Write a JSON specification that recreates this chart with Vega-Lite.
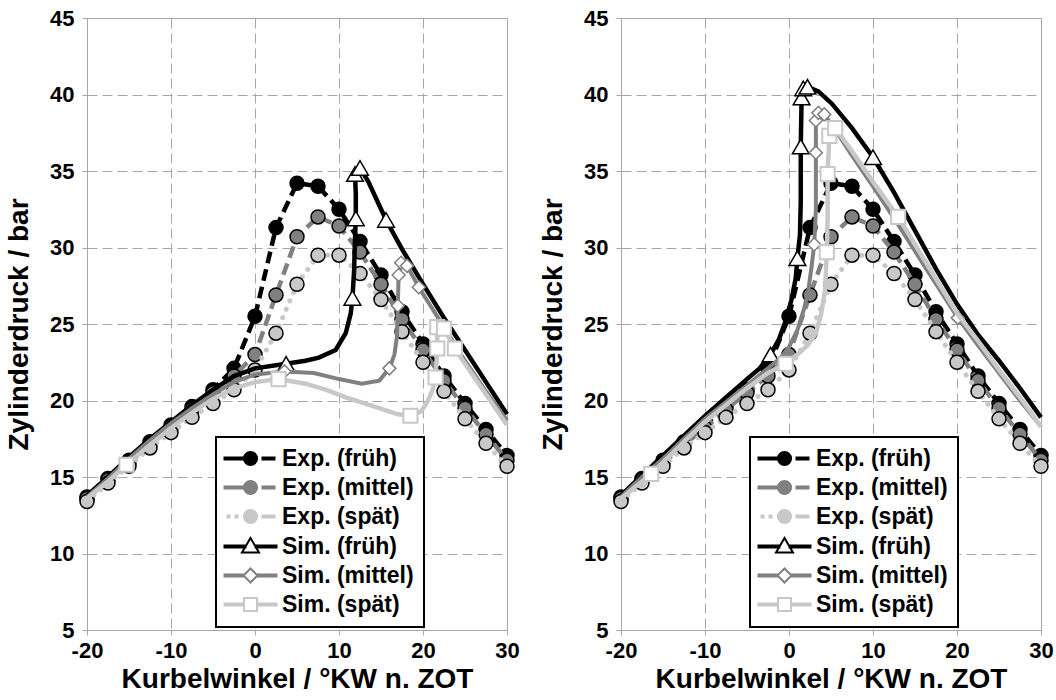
{
"$schema": "https://vega.github.io/schema/vega-lite/v6.json",
"padding": {"left": 5, "top": 6, "right": 0, "bottom": 0},
"background": "#ffffff",
"datasets": {
"exp": [
{"serie":"Exp. (früh)","kw":-20,"p":13.7},{"serie":"Exp. (früh)","kw":-17.5,"p":14.9},{"serie":"Exp. (früh)","kw":-15,"p":16.1},{"serie":"Exp. (früh)","kw":-12.5,"p":17.3},{"serie":"Exp. (früh)","kw":-10,"p":18.4},{"serie":"Exp. (früh)","kw":-7.5,"p":19.6},{"serie":"Exp. (früh)","kw":-5,"p":20.7},{"serie":"Exp. (früh)","kw":-2.5,"p":22.1},{"serie":"Exp. (früh)","kw":0,"p":25.5},{"serie":"Exp. (früh)","kw":2.5,"p":31.3},{"serie":"Exp. (früh)","kw":5,"p":34.2},{"serie":"Exp. (früh)","kw":7.5,"p":34.0},{"serie":"Exp. (früh)","kw":10,"p":32.5},{"serie":"Exp. (früh)","kw":12.5,"p":30.4},{"serie":"Exp. (früh)","kw":15,"p":28.2},{"serie":"Exp. (früh)","kw":17.5,"p":25.8},{"serie":"Exp. (früh)","kw":20,"p":23.7},{"serie":"Exp. (früh)","kw":22.5,"p":21.6},{"serie":"Exp. (früh)","kw":25,"p":19.8},{"serie":"Exp. (früh)","kw":27.5,"p":18.1},{"serie":"Exp. (früh)","kw":30,"p":16.4},
{"serie":"Exp. (mittel)","kw":-20,"p":13.6},{"serie":"Exp. (mittel)","kw":-17.5,"p":14.8},{"serie":"Exp. (mittel)","kw":-15,"p":15.9},{"serie":"Exp. (mittel)","kw":-12.5,"p":17.1},{"serie":"Exp. (mittel)","kw":-10,"p":18.2},{"serie":"Exp. (mittel)","kw":-7.5,"p":19.4},{"serie":"Exp. (mittel)","kw":-5,"p":20.5},{"serie":"Exp. (mittel)","kw":-2.5,"p":21.6},{"serie":"Exp. (mittel)","kw":0,"p":23.0},{"serie":"Exp. (mittel)","kw":2.5,"p":26.9},{"serie":"Exp. (mittel)","kw":5,"p":30.7},{"serie":"Exp. (mittel)","kw":7.5,"p":32.0},{"serie":"Exp. (mittel)","kw":10,"p":31.4},{"serie":"Exp. (mittel)","kw":12.5,"p":29.7},{"serie":"Exp. (mittel)","kw":15,"p":27.6},{"serie":"Exp. (mittel)","kw":17.5,"p":25.3},{"serie":"Exp. (mittel)","kw":20,"p":23.3},{"serie":"Exp. (mittel)","kw":22.5,"p":21.3},{"serie":"Exp. (mittel)","kw":25,"p":19.5},{"serie":"Exp. (mittel)","kw":27.5,"p":17.8},{"serie":"Exp. (mittel)","kw":30,"p":16.1},
{"serie":"Exp. (spät)","kw":-20,"p":13.4},{"serie":"Exp. (spät)","kw":-17.5,"p":14.6},{"serie":"Exp. (spät)","kw":-15,"p":15.7},{"serie":"Exp. (spät)","kw":-12.5,"p":16.9},{"serie":"Exp. (spät)","kw":-10,"p":17.9},{"serie":"Exp. (spät)","kw":-7.5,"p":18.9},{"serie":"Exp. (spät)","kw":-5,"p":19.8},{"serie":"Exp. (spät)","kw":-2.5,"p":20.7},{"serie":"Exp. (spät)","kw":0,"p":22.0},{"serie":"Exp. (spät)","kw":2.5,"p":24.4},{"serie":"Exp. (spät)","kw":5,"p":27.6},{"serie":"Exp. (spät)","kw":7.5,"p":29.5},{"serie":"Exp. (spät)","kw":10,"p":29.5},{"serie":"Exp. (spät)","kw":12.5,"p":28.3},{"serie":"Exp. (spät)","kw":15,"p":26.6},{"serie":"Exp. (spät)","kw":17.5,"p":24.5},{"serie":"Exp. (spät)","kw":20,"p":22.5},{"serie":"Exp. (spät)","kw":22.5,"p":20.6},{"serie":"Exp. (spät)","kw":25,"p":18.8},{"serie":"Exp. (spät)","kw":27.5,"p":17.2},{"serie":"Exp. (spät)","kw":30,"p":15.7}
],
"sim": [
{"panel":"L","serie":"Sim. (früh)","i":0,"kw":-20,"p":13.8,"m":0},{"panel":"L","serie":"Sim. (früh)","i":1,"kw":-17.5,"p":15.0,"m":0},{"panel":"L","serie":"Sim. (früh)","i":2,"kw":-15,"p":16.3,"m":0},{"panel":"L","serie":"Sim. (früh)","i":3,"kw":-12.5,"p":17.5,"m":0},{"panel":"L","serie":"Sim. (früh)","i":4,"kw":-10,"p":18.6,"m":0},{"panel":"L","serie":"Sim. (früh)","i":5,"kw":-7.5,"p":19.7,"m":0},{"panel":"L","serie":"Sim. (früh)","i":6,"kw":-5,"p":20.7,"m":0},{"panel":"L","serie":"Sim. (früh)","i":7,"kw":-2.5,"p":21.6,"m":0},{"panel":"L","serie":"Sim. (früh)","i":8,"kw":0,"p":22.1,"m":0},{"panel":"L","serie":"Sim. (früh)","i":9,"kw":3.7,"p":22.4,"m":1},{"panel":"L","serie":"Sim. (früh)","i":10,"kw":6,"p":22.6,"m":0},{"panel":"L","serie":"Sim. (früh)","i":11,"kw":7.6,"p":22.8,"m":0},{"panel":"L","serie":"Sim. (früh)","i":12,"kw":9.6,"p":23.3,"m":0},{"panel":"L","serie":"Sim. (früh)","i":13,"kw":10.8,"p":24.4,"m":0},{"panel":"L","serie":"Sim. (früh)","i":14,"kw":11.4,"p":25.7,"m":0},{"panel":"L","serie":"Sim. (früh)","i":15,"kw":11.6,"p":26.7,"m":1},{"panel":"L","serie":"Sim. (früh)","i":16,"kw":11.8,"p":28.5,"m":0},{"panel":"L","serie":"Sim. (früh)","i":17,"kw":11.9,"p":30.5,"m":0},{"panel":"L","serie":"Sim. (früh)","i":18,"kw":12.0,"p":31.9,"m":1},{"panel":"L","serie":"Sim. (früh)","i":19,"kw":12.0,"p":33.5,"m":0},{"panel":"L","serie":"Sim. (früh)","i":20,"kw":11.9,"p":34.8,"m":1},{"panel":"L","serie":"Sim. (früh)","i":21,"kw":12.5,"p":35.2,"m":1},{"panel":"L","serie":"Sim. (früh)","i":22,"kw":13.5,"p":34.3,"m":0},{"panel":"L","serie":"Sim. (früh)","i":23,"kw":15.6,"p":31.8,"m":1},{"panel":"L","serie":"Sim. (früh)","i":24,"kw":17.5,"p":29.9,"m":0},{"panel":"L","serie":"Sim. (früh)","i":25,"kw":20,"p":27.6,"m":0},{"panel":"L","serie":"Sim. (früh)","i":26,"kw":22.5,"p":25.4,"m":0},{"panel":"L","serie":"Sim. (früh)","i":27,"kw":25,"p":23.3,"m":0},{"panel":"L","serie":"Sim. (früh)","i":28,"kw":27.5,"p":21.2,"m":0},{"panel":"L","serie":"Sim. (früh)","i":29,"kw":30,"p":19.1,"m":0},
{"panel":"L","serie":"Sim. (mittel)","i":0,"kw":-20,"p":13.7,"m":0},{"panel":"L","serie":"Sim. (mittel)","i":1,"kw":-17.5,"p":14.9,"m":0},{"panel":"L","serie":"Sim. (mittel)","i":2,"kw":-15,"p":16.2,"m":0},{"panel":"L","serie":"Sim. (mittel)","i":3,"kw":-12.5,"p":17.4,"m":0},{"panel":"L","serie":"Sim. (mittel)","i":4,"kw":-10,"p":18.5,"m":0},{"panel":"L","serie":"Sim. (mittel)","i":5,"kw":-7.5,"p":19.5,"m":0},{"panel":"L","serie":"Sim. (mittel)","i":6,"kw":-5,"p":20.4,"m":0},{"panel":"L","serie":"Sim. (mittel)","i":7,"kw":-2.5,"p":21.2,"m":0},{"panel":"L","serie":"Sim. (mittel)","i":8,"kw":0,"p":21.7,"m":0},{"panel":"L","serie":"Sim. (mittel)","i":9,"kw":3.5,"p":21.9,"m":1},{"panel":"L","serie":"Sim. (mittel)","i":10,"kw":7,"p":21.8,"m":0},{"panel":"L","serie":"Sim. (mittel)","i":11,"kw":10,"p":21.4,"m":0},{"panel":"L","serie":"Sim. (mittel)","i":12,"kw":12.7,"p":21.1,"m":0},{"panel":"L","serie":"Sim. (mittel)","i":13,"kw":14.8,"p":21.3,"m":0},{"panel":"L","serie":"Sim. (mittel)","i":14,"kw":16.0,"p":22.1,"m":1},{"panel":"L","serie":"Sim. (mittel)","i":15,"kw":16.6,"p":23.0,"m":0},{"panel":"L","serie":"Sim. (mittel)","i":16,"kw":16.9,"p":24.2,"m":0},{"panel":"L","serie":"Sim. (mittel)","i":17,"kw":17.0,"p":26.2,"m":1},{"panel":"L","serie":"Sim. (mittel)","i":18,"kw":17.1,"p":28.2,"m":1},{"panel":"L","serie":"Sim. (mittel)","i":19,"kw":17.4,"p":29.0,"m":1},{"panel":"L","serie":"Sim. (mittel)","i":20,"kw":18.1,"p":28.8,"m":1},{"panel":"L","serie":"Sim. (mittel)","i":21,"kw":19.5,"p":27.4,"m":1},{"panel":"L","serie":"Sim. (mittel)","i":22,"kw":22.5,"p":24.8,"m":0},{"panel":"L","serie":"Sim. (mittel)","i":23,"kw":25,"p":22.6,"m":0},{"panel":"L","serie":"Sim. (mittel)","i":24,"kw":27.5,"p":20.6,"m":0},{"panel":"L","serie":"Sim. (mittel)","i":25,"kw":30,"p":18.7,"m":0},
{"panel":"L","serie":"Sim. (spät)","i":0,"kw":-20,"p":13.6,"m":0},{"panel":"L","serie":"Sim. (spät)","i":1,"kw":-17.5,"p":14.7,"m":0},{"panel":"L","serie":"Sim. (spät)","i":2,"kw":-15.3,"p":15.8,"m":1},{"panel":"L","serie":"Sim. (spät)","i":3,"kw":-12.5,"p":17.1,"m":0},{"panel":"L","serie":"Sim. (spät)","i":4,"kw":-10,"p":18.2,"m":0},{"panel":"L","serie":"Sim. (spät)","i":5,"kw":-7.5,"p":19.2,"m":0},{"panel":"L","serie":"Sim. (spät)","i":6,"kw":-5,"p":20.1,"m":0},{"panel":"L","serie":"Sim. (spät)","i":7,"kw":-2.5,"p":20.8,"m":0},{"panel":"L","serie":"Sim. (spät)","i":8,"kw":0,"p":21.2,"m":0},{"panel":"L","serie":"Sim. (spät)","i":9,"kw":2.8,"p":21.4,"m":1},{"panel":"L","serie":"Sim. (spät)","i":10,"kw":6,"p":21.1,"m":0},{"panel":"L","serie":"Sim. (spät)","i":11,"kw":8.5,"p":20.7,"m":0},{"panel":"L","serie":"Sim. (spät)","i":12,"kw":10.8,"p":20.2,"m":0},{"panel":"L","serie":"Sim. (spät)","i":13,"kw":14.8,"p":19.5,"m":0},{"panel":"L","serie":"Sim. (spät)","i":14,"kw":17,"p":19.1,"m":0},{"panel":"L","serie":"Sim. (spät)","i":15,"kw":18.5,"p":19.0,"m":1},{"panel":"L","serie":"Sim. (spät)","i":16,"kw":19.8,"p":19.3,"m":0},{"panel":"L","serie":"Sim. (spät)","i":17,"kw":20.6,"p":20.0,"m":0},{"panel":"L","serie":"Sim. (spät)","i":18,"kw":21.2,"p":20.8,"m":0},{"panel":"L","serie":"Sim. (spät)","i":19,"kw":21.5,"p":21.5,"m":1},{"panel":"L","serie":"Sim. (spät)","i":20,"kw":21.7,"p":23.4,"m":1},{"panel":"L","serie":"Sim. (spät)","i":21,"kw":21.7,"p":24.8,"m":1},{"panel":"L","serie":"Sim. (spät)","i":22,"kw":22.5,"p":24.7,"m":1},{"panel":"L","serie":"Sim. (spät)","i":23,"kw":23.8,"p":23.4,"m":1},{"panel":"L","serie":"Sim. (spät)","i":24,"kw":25,"p":22.4,"m":0},{"panel":"L","serie":"Sim. (spät)","i":25,"kw":27.5,"p":20.4,"m":0},{"panel":"L","serie":"Sim. (spät)","i":26,"kw":30,"p":18.4,"m":0},
{"panel":"R","serie":"Sim. (früh)","i":0,"kw":-20,"p":13.8,"m":0},{"panel":"R","serie":"Sim. (früh)","i":1,"kw":-17.5,"p":15.1,"m":0},{"panel":"R","serie":"Sim. (früh)","i":2,"kw":-15,"p":16.4,"m":0},{"panel":"R","serie":"Sim. (früh)","i":3,"kw":-12.5,"p":17.7,"m":0},{"panel":"R","serie":"Sim. (früh)","i":4,"kw":-10,"p":19.0,"m":0},{"panel":"R","serie":"Sim. (früh)","i":5,"kw":-7.5,"p":20.2,"m":0},{"panel":"R","serie":"Sim. (früh)","i":6,"kw":-5,"p":21.4,"m":0},{"panel":"R","serie":"Sim. (früh)","i":7,"kw":-3.5,"p":22.1,"m":0},{"panel":"R","serie":"Sim. (früh)","i":8,"kw":-2.2,"p":23.0,"m":1},{"panel":"R","serie":"Sim. (früh)","i":9,"kw":-1.2,"p":24.0,"m":0},{"panel":"R","serie":"Sim. (früh)","i":10,"kw":-0.4,"p":25.2,"m":0},{"panel":"R","serie":"Sim. (früh)","i":11,"kw":0.3,"p":26.6,"m":0},{"panel":"R","serie":"Sim. (früh)","i":12,"kw":0.8,"p":28.0,"m":0},{"panel":"R","serie":"Sim. (früh)","i":13,"kw":1.0,"p":29.3,"m":1},{"panel":"R","serie":"Sim. (früh)","i":14,"kw":1.3,"p":30.8,"m":0},{"panel":"R","serie":"Sim. (früh)","i":15,"kw":1.4,"p":33.0,"m":0},{"panel":"R","serie":"Sim. (früh)","i":16,"kw":1.4,"p":36.6,"m":1},{"panel":"R","serie":"Sim. (früh)","i":17,"kw":1.5,"p":39.8,"m":1},{"panel":"R","serie":"Sim. (früh)","i":18,"kw":1.7,"p":40.4,"m":1},{"panel":"R","serie":"Sim. (früh)","i":19,"kw":2.2,"p":40.5,"m":1},{"panel":"R","serie":"Sim. (früh)","i":20,"kw":3.5,"p":40.2,"m":0},{"panel":"R","serie":"Sim. (früh)","i":21,"kw":5.1,"p":39.4,"m":0},{"panel":"R","serie":"Sim. (früh)","i":22,"kw":7.5,"p":37.8,"m":0},{"panel":"R","serie":"Sim. (früh)","i":23,"kw":10.0,"p":35.9,"m":1},{"panel":"R","serie":"Sim. (früh)","i":24,"kw":12.5,"p":33.6,"m":0},{"panel":"R","serie":"Sim. (früh)","i":25,"kw":15,"p":31.1,"m":0},{"panel":"R","serie":"Sim. (früh)","i":26,"kw":17.5,"p":28.6,"m":0},{"panel":"R","serie":"Sim. (früh)","i":27,"kw":20,"p":26.3,"m":0},{"panel":"R","serie":"Sim. (früh)","i":28,"kw":22.5,"p":24.3,"m":0},{"panel":"R","serie":"Sim. (früh)","i":29,"kw":25,"p":22.6,"m":0},{"panel":"R","serie":"Sim. (früh)","i":30,"kw":27.5,"p":20.8,"m":0},{"panel":"R","serie":"Sim. (früh)","i":31,"kw":30,"p":18.9,"m":0},
{"panel":"R","serie":"Sim. (mittel)","i":0,"kw":-20,"p":13.7,"m":0},{"panel":"R","serie":"Sim. (mittel)","i":1,"kw":-17.5,"p":15.0,"m":0},{"panel":"R","serie":"Sim. (mittel)","i":2,"kw":-15,"p":16.2,"m":0},{"panel":"R","serie":"Sim. (mittel)","i":3,"kw":-12.5,"p":17.5,"m":0},{"panel":"R","serie":"Sim. (mittel)","i":4,"kw":-10,"p":18.8,"m":0},{"panel":"R","serie":"Sim. (mittel)","i":5,"kw":-7.5,"p":19.9,"m":0},{"panel":"R","serie":"Sim. (mittel)","i":6,"kw":-5,"p":21.0,"m":0},{"panel":"R","serie":"Sim. (mittel)","i":7,"kw":-2.5,"p":22.1,"m":0},{"panel":"R","serie":"Sim. (mittel)","i":8,"kw":-1,"p":22.8,"m":0},{"panel":"R","serie":"Sim. (mittel)","i":9,"kw":0,"p":23.5,"m":0},{"panel":"R","serie":"Sim. (mittel)","i":10,"kw":1,"p":24.6,"m":0},{"panel":"R","serie":"Sim. (mittel)","i":11,"kw":1.8,"p":26.0,"m":0},{"panel":"R","serie":"Sim. (mittel)","i":12,"kw":2.3,"p":27.2,"m":0},{"panel":"R","serie":"Sim. (mittel)","i":13,"kw":2.7,"p":28.8,"m":0},{"panel":"R","serie":"Sim. (mittel)","i":14,"kw":3.0,"p":30.2,"m":1},{"panel":"R","serie":"Sim. (mittel)","i":15,"kw":3.2,"p":32.5,"m":0},{"panel":"R","serie":"Sim. (mittel)","i":16,"kw":3.2,"p":34.5,"m":0},{"panel":"R","serie":"Sim. (mittel)","i":17,"kw":3.2,"p":36.2,"m":1},{"panel":"R","serie":"Sim. (mittel)","i":18,"kw":3.2,"p":38.3,"m":1},{"panel":"R","serie":"Sim. (mittel)","i":19,"kw":3.5,"p":38.8,"m":1},{"panel":"R","serie":"Sim. (mittel)","i":20,"kw":4.2,"p":38.7,"m":1},{"panel":"R","serie":"Sim. (mittel)","i":21,"kw":5.5,"p":37.7,"m":0},{"panel":"R","serie":"Sim. (mittel)","i":22,"kw":7.5,"p":36.0,"m":0},{"panel":"R","serie":"Sim. (mittel)","i":23,"kw":10,"p":34.0,"m":0},{"panel":"R","serie":"Sim. (mittel)","i":24,"kw":13,"p":31.5,"m":0},{"panel":"R","serie":"Sim. (mittel)","i":25,"kw":16,"p":28.9,"m":0},{"panel":"R","serie":"Sim. (mittel)","i":26,"kw":20.1,"p":25.4,"m":1},{"panel":"R","serie":"Sim. (mittel)","i":27,"kw":22.5,"p":23.6,"m":0},{"panel":"R","serie":"Sim. (mittel)","i":28,"kw":25,"p":21.8,"m":0},{"panel":"R","serie":"Sim. (mittel)","i":29,"kw":27.5,"p":20.0,"m":0},{"panel":"R","serie":"Sim. (mittel)","i":30,"kw":30,"p":18.3,"m":0},
{"panel":"R","serie":"Sim. (spät)","i":0,"kw":-20,"p":13.6,"m":0},{"panel":"R","serie":"Sim. (spät)","i":1,"kw":-16.4,"p":15.2,"m":1},{"panel":"R","serie":"Sim. (spät)","i":2,"kw":-12.5,"p":17.3,"m":0},{"panel":"R","serie":"Sim. (spät)","i":3,"kw":-10,"p":18.6,"m":0},{"panel":"R","serie":"Sim. (spät)","i":4,"kw":-7.5,"p":19.7,"m":0},{"panel":"R","serie":"Sim. (spät)","i":5,"kw":-5,"p":20.8,"m":0},{"panel":"R","serie":"Sim. (spät)","i":6,"kw":-2.5,"p":21.8,"m":0},{"panel":"R","serie":"Sim. (spät)","i":7,"kw":-0.4,"p":22.4,"m":1},{"panel":"R","serie":"Sim. (spät)","i":8,"kw":1,"p":23.0,"m":0},{"panel":"R","serie":"Sim. (spät)","i":9,"kw":2.2,"p":23.6,"m":0},{"panel":"R","serie":"Sim. (spät)","i":10,"kw":3.2,"p":24.4,"m":0},{"panel":"R","serie":"Sim. (spät)","i":11,"kw":3.8,"p":25.6,"m":0},{"panel":"R","serie":"Sim. (spät)","i":12,"kw":4.3,"p":27.2,"m":0},{"panel":"R","serie":"Sim. (spät)","i":13,"kw":4.5,"p":29.7,"m":1},{"panel":"R","serie":"Sim. (spät)","i":14,"kw":4.6,"p":32.0,"m":0},{"panel":"R","serie":"Sim. (spät)","i":15,"kw":4.6,"p":34.8,"m":1},{"panel":"R","serie":"Sim. (spät)","i":16,"kw":4.8,"p":37.3,"m":1},{"panel":"R","serie":"Sim. (spät)","i":17,"kw":5.5,"p":37.8,"m":1},{"panel":"R","serie":"Sim. (spät)","i":18,"kw":7.5,"p":36.3,"m":0},{"panel":"R","serie":"Sim. (spät)","i":19,"kw":10,"p":34.3,"m":0},{"panel":"R","serie":"Sim. (spät)","i":20,"kw":13.0,"p":32.0,"m":1},{"panel":"R","serie":"Sim. (spät)","i":21,"kw":16,"p":29.3,"m":0},{"panel":"R","serie":"Sim. (spät)","i":22,"kw":20,"p":25.7,"m":0},{"panel":"R","serie":"Sim. (spät)","i":23,"kw":22.5,"p":23.9,"m":0},{"panel":"R","serie":"Sim. (spät)","i":24,"kw":25,"p":22.0,"m":0},{"panel":"R","serie":"Sim. (spät)","i":25,"kw":27.5,"p":20.2,"m":0},{"panel":"R","serie":"Sim. (spät)","i":26,"kw":30,"p":18.3,"m":0}
]
},
"spacing": 114,
"bounds": "flush",
"resolve": {
  "scale": {"shape": "independent", "fill": "independent", "stroke": "independent"},
  "legend": {"shape": "independent", "fill": "independent", "stroke": "independent"}
},
"hconcat": [
{
"width": 420, "height": 612,
"encoding": {
  "x": {"field": "kw", "type": "quantitative", "scale": {"domain": [-20, 30], "nice": false, "zero": false}, "axis": {"values": [-20, -10, 0, 10, 20, 30], "labelExpr": "toString(datum.value)", "title": "Kurbelwinkel / °KW n. ZOT"}},
  "y": {"field": "p", "type": "quantitative", "scale": {"domain": [5, 45], "nice": false, "zero": false}, "axis": {"values": [5, 10, 15, 20, 25, 30, 35, 40, 45], "title": "Zylinderdruck / bar"}}
},
"layer": [
{"data": {"name": "exp"}, "transform": [{"filter": "datum.serie === 'Exp. (früh)'"}], "mark": {"type": "line", "stroke": "#000000", "strokeWidth": 4.5, "strokeDash": [12, 6]}},
{"data": {"name": "exp"}, "transform": [{"filter": "datum.serie === 'Exp. (früh)'"}], "mark": {"type": "point", "shape": "circle", "filled": true, "fill": "#000000", "stroke": "#000000", "strokeWidth": 1.5, "size": 196, "opacity": 1}},
{"data": {"name": "exp"}, "transform": [{"filter": "datum.serie === 'Exp. (mittel)'"}], "mark": {"type": "line", "stroke": "#808080", "strokeWidth": 4.5, "strokeDash": [12, 6]}},
{"data": {"name": "exp"}, "transform": [{"filter": "datum.serie === 'Exp. (mittel)'"}], "mark": {"type": "point", "shape": "circle", "filled": true, "fill": "#808080", "stroke": "#000000", "strokeWidth": 1.5, "size": 196, "opacity": 1}},
{"data": {"name": "exp"}, "transform": [{"filter": "datum.serie === 'Exp. (spät)'"}], "mark": {"type": "line", "stroke": "#c8c8c8", "strokeWidth": 5, "strokeDash": [0.1, 9], "strokeCap": "round"}},
{"data": {"name": "exp"}, "transform": [{"filter": "datum.serie === 'Exp. (spät)'"}], "mark": {"type": "point", "shape": "circle", "filled": true, "fill": "#c8c8c8", "stroke": "#000000", "strokeWidth": 1.5, "size": 196, "opacity": 1}},
{"data": {"name": "sim"}, "transform": [{"filter": "datum.panel === 'L' && datum.serie === 'Sim. (früh)'"}], "mark": {"type": "line", "stroke": "#000000", "strokeWidth": 4.5}, "encoding": {"order": {"field": "i", "type": "quantitative"}}},
{"data": {"name": "sim"}, "transform": [{"filter": "datum.panel === 'L' && datum.serie === 'Sim. (früh)' && datum.m === 1"}], "mark": {"type": "point", "shape": "triangle-up", "filled": true, "fill": "#ffffff", "stroke": "#000000", "strokeWidth": 1.5, "size": 280, "opacity": 1}},
{"data": {"name": "sim"}, "transform": [{"filter": "datum.panel === 'L' && datum.serie === 'Sim. (mittel)'"}], "mark": {"type": "line", "stroke": "#808080", "strokeWidth": 4}, "encoding": {"order": {"field": "i", "type": "quantitative"}}},
{"data": {"name": "sim"}, "transform": [{"filter": "datum.panel === 'L' && datum.serie === 'Sim. (mittel)' && datum.m === 1"}], "mark": {"type": "point", "shape": "diamond", "filled": true, "fill": "#ffffff", "stroke": "#808080", "strokeWidth": 1.5, "size": 170, "opacity": 1}},
{"data": {"name": "sim"}, "transform": [{"filter": "datum.panel === 'L' && datum.serie === 'Sim. (spät)'"}], "mark": {"type": "line", "stroke": "#c8c8c8", "strokeWidth": 4.5}, "encoding": {"order": {"field": "i", "type": "quantitative"}}},
{"data": {"name": "sim"}, "transform": [{"filter": "datum.panel === 'L' && datum.serie === 'Sim. (spät)' && datum.m === 1"}], "mark": {"type": "point", "shape": "square", "filled": true, "fill": "#ffffff", "stroke": "#c8c8c8", "strokeWidth": 2, "size": 200, "opacity": 1}},
{"data": {"name": "exp"}, "transform": [{"filter": "false"}], "mark": {"type": "point", "filled": true, "opacity": 1},
 "encoding": {
  "shape": {"field": "serie", "type": "nominal",
    "scale": {"domain": ["Exp. (früh)", "Exp. (mittel)", "Exp. (spät)", "Sim. (früh)", "Sim. (mittel)", "Sim. (spät)"],
      "range": ["M-2.6,-0.1L-0.8,-0.1L-0.8,0.1L-2.6,0.1Z M1.2,-0.1L2.4,-0.1L2.4,0.1L1.2,0.1Z M0.66,0A0.66,0.66,0,1,1,-0.66,0A0.66,0.66,0,1,1,0.66,0Z",
                "M-2.6,-0.1L-0.8,-0.1L-0.8,0.1L-2.6,0.1Z M1.2,-0.1L2.4,-0.1L2.4,0.1L1.2,0.1Z M0.66,0A0.66,0.66,0,1,1,-0.66,0A0.66,0.66,0,1,1,0.66,0Z",
                "M-2.3,-0.1L-2.1,-0.1L-2.1,0.1L-2.3,0.1Z M-1.5,-0.1L-1.3,-0.1L-1.3,0.1L-1.5,0.1Z M1.2,-0.1L2.4,-0.1L2.4,0.1L1.2,0.1Z M0.66,0A0.66,0.66,0,1,1,-0.66,0A0.66,0.66,0,1,1,0.66,0Z",
                "M-2.6,-0.1L-0.5,-0.1L-0.5,0.1L-2.6,0.1Z M0.5,-0.1L2.6,-0.1L2.6,0.1L0.5,0.1Z M0,-0.85L0.85,0.6L-0.85,0.6Z",
                "M-2.6,-0.1L-0.7,-0.1L-0.7,0.1L-2.6,0.1Z M0.7,-0.1L2.6,-0.1L2.6,0.1L0.7,0.1Z M0,-0.7L0.7,0L0,0.7L-0.7,0Z",
                "M-2.6,-0.1L-0.65,-0.1L-0.65,0.1L-2.6,0.1Z M0.65,-0.1L2.6,-0.1L2.6,0.1L0.65,0.1Z M-0.65,-0.65L0.65,-0.65L0.65,0.65L-0.65,0.65Z"]},
    "legend": {"orient": "none", "legendX": 129, "legendY": 419, "title": null, "padding": 10, "fillColor": "#ffffff", "strokeColor": "#000000", "symbolSize": 400, "symbolStrokeWidth": 2, "symbolOffset": 13, "labelOffset": 20, "labelFont": "Liberation Sans", "labelFontSize": 23, "labelFontWeight": "bold", "labelColor": "#000000", "labelLimit": 400, "rowPadding": 5, "symbolFillColor": "#ffffff"}},
  "fill": {"field": "serie", "type": "nominal",
    "scale": {"domain": ["Exp. (früh)", "Exp. (mittel)", "Exp. (spät)", "Sim. (früh)", "Sim. (mittel)", "Sim. (spät)"], "range": ["#000000", "#808080", "#c8c8c8", "#ffffff", "#ffffff", "#ffffff"]},
    "legend": {"orient": "none", "legendX": 129, "legendY": 419, "title": null, "padding": 10, "fillColor": "#ffffff", "strokeColor": "#000000", "symbolSize": 400, "symbolStrokeWidth": 2, "symbolOffset": 13, "labelOffset": 20, "labelFont": "Liberation Sans", "labelFontSize": 23, "labelFontWeight": "bold", "labelColor": "#000000", "labelLimit": 400, "rowPadding": 5, "symbolFillColor": "#ffffff"}},
  "stroke": {"field": "serie", "type": "nominal",
    "scale": {"domain": ["Exp. (früh)", "Exp. (mittel)", "Exp. (spät)", "Sim. (früh)", "Sim. (mittel)", "Sim. (spät)"], "range": ["#000000", "#808080", "#c8c8c8", "#000000", "#808080", "#c8c8c8"]},
    "legend": {"orient": "none", "legendX": 129, "legendY": 419, "title": null, "padding": 10, "fillColor": "#ffffff", "strokeColor": "#000000", "symbolSize": 400, "symbolStrokeWidth": 2, "symbolOffset": 13, "labelOffset": 20, "labelFont": "Liberation Sans", "labelFontSize": 23, "labelFontWeight": "bold", "labelColor": "#000000", "labelLimit": 400, "rowPadding": 5, "symbolFillColor": "#ffffff"}}
 }}
]
},
{
"width": 420, "height": 612,
"encoding": {
  "x": {"field": "kw", "type": "quantitative", "scale": {"domain": [-20, 30], "nice": false, "zero": false}, "axis": {"values": [-20, -10, 0, 10, 20, 30], "labelExpr": "toString(datum.value)", "title": "Kurbelwinkel / °KW n. ZOT"}},
  "y": {"field": "p", "type": "quantitative", "scale": {"domain": [5, 45], "nice": false, "zero": false}, "axis": {"values": [5, 10, 15, 20, 25, 30, 35, 40, 45], "title": "Zylinderdruck / bar"}}
},
"layer": [
{"data": {"name": "exp"}, "transform": [{"filter": "datum.serie === 'Exp. (früh)'"}], "mark": {"type": "line", "stroke": "#000000", "strokeWidth": 4.5, "strokeDash": [12, 6]}},
{"data": {"name": "exp"}, "transform": [{"filter": "datum.serie === 'Exp. (früh)'"}], "mark": {"type": "point", "shape": "circle", "filled": true, "fill": "#000000", "stroke": "#000000", "strokeWidth": 1.5, "size": 196, "opacity": 1}},
{"data": {"name": "exp"}, "transform": [{"filter": "datum.serie === 'Exp. (mittel)'"}], "mark": {"type": "line", "stroke": "#808080", "strokeWidth": 4.5, "strokeDash": [12, 6]}},
{"data": {"name": "exp"}, "transform": [{"filter": "datum.serie === 'Exp. (mittel)'"}], "mark": {"type": "point", "shape": "circle", "filled": true, "fill": "#808080", "stroke": "#000000", "strokeWidth": 1.5, "size": 196, "opacity": 1}},
{"data": {"name": "exp"}, "transform": [{"filter": "datum.serie === 'Exp. (spät)'"}], "mark": {"type": "line", "stroke": "#c8c8c8", "strokeWidth": 5, "strokeDash": [0.1, 9], "strokeCap": "round"}},
{"data": {"name": "exp"}, "transform": [{"filter": "datum.serie === 'Exp. (spät)'"}], "mark": {"type": "point", "shape": "circle", "filled": true, "fill": "#c8c8c8", "stroke": "#000000", "strokeWidth": 1.5, "size": 196, "opacity": 1}},
{"data": {"name": "sim"}, "transform": [{"filter": "datum.panel === 'R' && datum.serie === 'Sim. (früh)'"}], "mark": {"type": "line", "stroke": "#000000", "strokeWidth": 4.5}, "encoding": {"order": {"field": "i", "type": "quantitative"}}},
{"data": {"name": "sim"}, "transform": [{"filter": "datum.panel === 'R' && datum.serie === 'Sim. (früh)' && datum.m === 1"}], "mark": {"type": "point", "shape": "triangle-up", "filled": true, "fill": "#ffffff", "stroke": "#000000", "strokeWidth": 1.5, "size": 280, "opacity": 1}},
{"data": {"name": "sim"}, "transform": [{"filter": "datum.panel === 'R' && datum.serie === 'Sim. (mittel)'"}], "mark": {"type": "line", "stroke": "#808080", "strokeWidth": 4}, "encoding": {"order": {"field": "i", "type": "quantitative"}}},
{"data": {"name": "sim"}, "transform": [{"filter": "datum.panel === 'R' && datum.serie === 'Sim. (mittel)' && datum.m === 1"}], "mark": {"type": "point", "shape": "diamond", "filled": true, "fill": "#ffffff", "stroke": "#808080", "strokeWidth": 1.5, "size": 170, "opacity": 1}},
{"data": {"name": "sim"}, "transform": [{"filter": "datum.panel === 'R' && datum.serie === 'Sim. (spät)'"}], "mark": {"type": "line", "stroke": "#c8c8c8", "strokeWidth": 4.5}, "encoding": {"order": {"field": "i", "type": "quantitative"}}},
{"data": {"name": "sim"}, "transform": [{"filter": "datum.panel === 'R' && datum.serie === 'Sim. (spät)' && datum.m === 1"}], "mark": {"type": "point", "shape": "square", "filled": true, "fill": "#ffffff", "stroke": "#c8c8c8", "strokeWidth": 2, "size": 200, "opacity": 1}},
{"data": {"name": "exp"}, "transform": [{"filter": "false"}], "mark": {"type": "point", "filled": true, "opacity": 1},
 "encoding": {
  "shape": {"field": "serie", "type": "nominal",
    "scale": {"domain": ["Exp. (früh)", "Exp. (mittel)", "Exp. (spät)", "Sim. (früh)", "Sim. (mittel)", "Sim. (spät)"],
      "range": ["M-2.6,-0.1L-0.8,-0.1L-0.8,0.1L-2.6,0.1Z M1.2,-0.1L2.4,-0.1L2.4,0.1L1.2,0.1Z M0.66,0A0.66,0.66,0,1,1,-0.66,0A0.66,0.66,0,1,1,0.66,0Z",
                "M-2.6,-0.1L-0.8,-0.1L-0.8,0.1L-2.6,0.1Z M1.2,-0.1L2.4,-0.1L2.4,0.1L1.2,0.1Z M0.66,0A0.66,0.66,0,1,1,-0.66,0A0.66,0.66,0,1,1,0.66,0Z",
                "M-2.3,-0.1L-2.1,-0.1L-2.1,0.1L-2.3,0.1Z M-1.5,-0.1L-1.3,-0.1L-1.3,0.1L-1.5,0.1Z M1.2,-0.1L2.4,-0.1L2.4,0.1L1.2,0.1Z M0.66,0A0.66,0.66,0,1,1,-0.66,0A0.66,0.66,0,1,1,0.66,0Z",
                "M-2.6,-0.1L-0.5,-0.1L-0.5,0.1L-2.6,0.1Z M0.5,-0.1L2.6,-0.1L2.6,0.1L0.5,0.1Z M0,-0.85L0.85,0.6L-0.85,0.6Z",
                "M-2.6,-0.1L-0.7,-0.1L-0.7,0.1L-2.6,0.1Z M0.7,-0.1L2.6,-0.1L2.6,0.1L0.7,0.1Z M0,-0.7L0.7,0L0,0.7L-0.7,0Z",
                "M-2.6,-0.1L-0.65,-0.1L-0.65,0.1L-2.6,0.1Z M0.65,-0.1L2.6,-0.1L2.6,0.1L0.65,0.1Z M-0.65,-0.65L0.65,-0.65L0.65,0.65L-0.65,0.65Z"]},
    "legend": {"orient": "none", "legendX": 129, "legendY": 419, "title": null, "padding": 10, "fillColor": "#ffffff", "strokeColor": "#000000", "symbolSize": 400, "symbolStrokeWidth": 2, "symbolOffset": 13, "labelOffset": 20, "labelFont": "Liberation Sans", "labelFontSize": 23, "labelFontWeight": "bold", "labelColor": "#000000", "labelLimit": 400, "rowPadding": 5, "symbolFillColor": "#ffffff"}},
  "fill": {"field": "serie", "type": "nominal",
    "scale": {"domain": ["Exp. (früh)", "Exp. (mittel)", "Exp. (spät)", "Sim. (früh)", "Sim. (mittel)", "Sim. (spät)"], "range": ["#000000", "#808080", "#c8c8c8", "#ffffff", "#ffffff", "#ffffff"]},
    "legend": {"orient": "none", "legendX": 129, "legendY": 419, "title": null, "padding": 10, "fillColor": "#ffffff", "strokeColor": "#000000", "symbolSize": 400, "symbolStrokeWidth": 2, "symbolOffset": 13, "labelOffset": 20, "labelFont": "Liberation Sans", "labelFontSize": 23, "labelFontWeight": "bold", "labelColor": "#000000", "labelLimit": 400, "rowPadding": 5, "symbolFillColor": "#ffffff"}},
  "stroke": {"field": "serie", "type": "nominal",
    "scale": {"domain": ["Exp. (früh)", "Exp. (mittel)", "Exp. (spät)", "Sim. (früh)", "Sim. (mittel)", "Sim. (spät)"], "range": ["#000000", "#808080", "#c8c8c8", "#000000", "#808080", "#c8c8c8"]},
    "legend": {"orient": "none", "legendX": 129, "legendY": 419, "title": null, "padding": 10, "fillColor": "#ffffff", "strokeColor": "#000000", "symbolSize": 400, "symbolStrokeWidth": 2, "symbolOffset": 13, "labelOffset": 20, "labelFont": "Liberation Sans", "labelFontSize": 23, "labelFontWeight": "bold", "labelColor": "#000000", "labelLimit": 400, "rowPadding": 5, "symbolFillColor": "#ffffff"}}
 }}
]
}
],
"config": {
  "font": "Liberation Sans",
  "view": {"stroke": "#a6a6a6", "strokeWidth": 1},
  "axis": {"labelFont": "Liberation Sans", "labelFontSize": 22, "labelFontWeight": "bold", "labelColor": "#000000", "titleFont": "Liberation Sans", "titleFontSize": 28, "titleFontWeight": "bold", "titleColor": "#000000", "domainColor": "#a6a6a6", "domainWidth": 1, "tickColor": "#a6a6a6", "tickSize": 5, "tickWidth": 1, "gridColor": "#a6a6a6", "gridDash": [10, 5], "gridWidth": 1, "labelFlush": false, "labelOverlap": false},
  "axisX": {"labelPadding": 5, "titlePadding": 4},
  "axisY": {"labelPadding": 8, "titlePadding": 16},
  "legend": {"strokeWidth": 2}
}
}
